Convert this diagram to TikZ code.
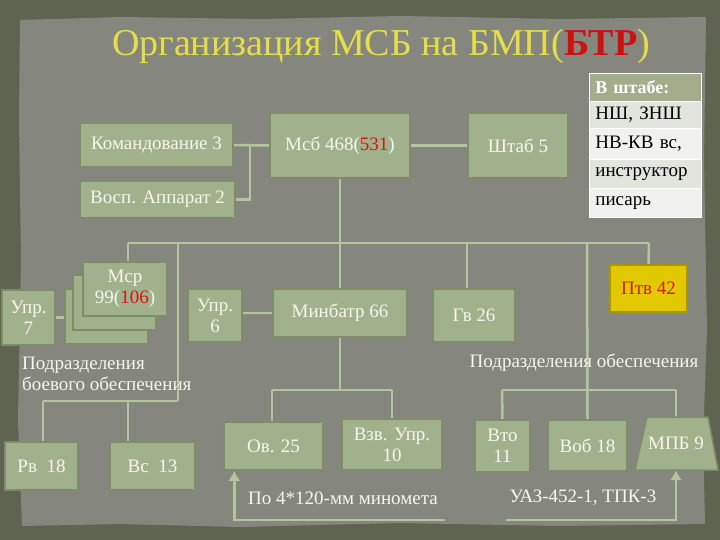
\documentclass[tikz,border=0pt]{standalone}
\usepackage{fontspec}
\setmainfont{Liberation Serif}
\usetikzlibrary{arrows.meta}
\definecolor{frame}{HTML}{5F6450}
\definecolor{paper}{HTML}{85877F}
\definecolor{boxfill}{HTML}{A1B18C}
\definecolor{boxedge}{HTML}{7E8C6C}
\definecolor{boxtext}{HTML}{F6F6EE}
\definecolor{linec}{HTML}{B4C49E}
\definecolor{hdr}{HTML}{A3AD8C}
\definecolor{rowa}{HTML}{E2E4DE}
\definecolor{rowb}{HTML}{F1F1EF}
\definecolor{ttl}{HTML}{E6DE48}
\definecolor{ttlred}{HTML}{D01010}
\definecolor{numred}{HTML}{D41414}
\definecolor{ptvfill}{HTML}{E2C800}
\definecolor{ptvtext}{HTML}{CC2200}
\pgfdeclarelayer{bg}
\pgfdeclarelayer{lines}
\pgfsetlayers{bg,lines,main}
\begin{document}
\begin{tikzpicture}[x=1pt,y=-1pt,
  box/.style={draw=boxedge, line width=1.5pt, fill=boxfill, text=boxtext, align=center, inner sep=1pt, font=\fontsize{19}{21}\selectfont},
  conn/.style={draw=linec, line width=2.5pt},
  arr/.style={conn, -{Latex[length=10pt,width=12pt]}},
  cell/.style={anchor=north west, minimum width=112, text width=100, inner sep=6pt, align=left, font=\fontsize{19}{21}\selectfont, text=black, draw=white, line width=0.8pt},
  lbl/.style={text=boxtext, font=\fontsize{19}{21}\selectfont, inner sep=0pt}]
\useasboundingbox (0,0) rectangle (720,540);
% background
\begin{pgfonlayer}{bg}
\fill[frame] (0,0) rectangle (720,540);
\fill[paper] (20,20) -- (120,17) -- (260,19) -- (400,16) -- (560,19) -- (706,17) -- (704,160) -- (707,330) -- (703,440) -- (705,524) -- (560,526) -- (400,523) -- (240,527) -- (120,524) -- (22,526) -- (18,420) -- (21,260) -- (19,120) -- cycle;
\end{pgfonlayer}
% title
\node (title) at (381,46) {\fontsize{38}{42}\selectfont\color{ttl}Организация МСБ на БМП(\textcolor{ttlred}{\textbf{БТР}})};
% table
\node[cell, fill=hdr, minimum height=28, text=white, font=\fontsize{18}{20}\selectfont\bfseries] (t0) at (589,73) {В штабе:};
\node[cell, fill=rowa, minimum height=27] (t1) at (589,101) {НШ, ЗНШ};
\node[cell, fill=rowb, minimum height=31] (t2) at (589,128) {НВ-КВ вс,};
\node[cell, fill=rowa, minimum height=29] (t3) at (589,159) {инструктор};
\node[cell, fill=rowb, minimum height=29] (t4) at (589,188) {писарь};
% upper boxes
\node[box, minimum width=153, minimum height=44] (kom) at (156.5,145) {Командование 3};
\node[box, minimum width=155, minimum height=37] (vosp) at (157.5,199.5) {Восп. Аппарат 2};
\node[box, minimum width=140, minimum height=65] (msb) at (340,145.5) {Мсб 468(\textcolor{numred}{531})};
\node[box, minimum width=100, minimum height=65] (shtab) at (518,145.5) {Штаб 5};
% middle row
\node[box, minimum width=53, minimum height=55] (upr7) at (28.5,317.5) {Упр.\\7};
\node[box, minimum width=83, minimum height=55] (msrC) at (106.5,316.5) {};
\node[box, minimum width=83, minimum height=55] (msrB) at (114.5,302.5) {};
\node[box, minimum width=84, minimum height=54] (msrA) at (125,289) {Мср\\99(\textcolor{numred}{106})};
\node[box, minimum width=54, minimum height=53] (upr6) at (215,315.5) {Упр.\\6};
\node[box, minimum width=134, minimum height=48] (minb) at (340,313) {Минбатр 66};
\node[box, minimum width=82, minimum height=53] (gv) at (474,315.5) {Гв 26};
\node[box, draw=ptvfill!75!black, fill=ptvfill, text=ptvtext, minimum width=77, minimum height=47] (ptv) at (648.5,288.5) {Птв 42};
% bottom row
\node[box, minimum width=73, minimum height=48] (rv) at (41.5,466) {Рв\ \ 18};
\node[box, minimum width=85, minimum height=48] (vs) at (152.5,466) {Вс\ \ 13};
\node[box, minimum width=99, minimum height=48] (ov) at (273.5,446) {Ов. 25};
\node[box, minimum width=100, minimum height=51] (vzv) at (392,444.5) {Взв. Упр.\\10};
\node[box, minimum width=55, minimum height=52] (vto) at (502.5,446) {Вто\\11};
\node[box, minimum width=79, minimum height=51] (vob) at (587.5,445.5) {Воб 18};
\path[draw=boxedge, line width=1.5pt, fill=boxfill] (647,417) -- (708,417) -- (718,470) -- (635,470) -- cycle;
\node[lbl, minimum width=60, minimum height=53] (mpb) at (676,443.5) {МПБ 9};
% junction coordinates
\coordinate (j1) at (250,145);
\coordinate (bA) at (128,243);
\coordinate (bB) at (178,243);
\coordinate (bD) at (467,243);
\coordinate (bE) at (587,243);
\coordinate (bF) at (649,243);
\coordinate (lL) at (43,401);
\coordinate (lR) at (178,401);
\coordinate (lM) at (128,401);
\coordinate (mL) at (272,390);
\coordinate (mR) at (392,390);
\coordinate (rL) at (502,390);
\coordinate (rR) at (676,390);
\coordinate (a1) at (445,520);
\coordinate (a2) at (506,520);
% connectors
\begin{pgfonlayer}{lines}
\draw[conn] (kom.east) -- (msb.west);
\draw[conn] (vosp.east) -| (j1);
\draw[conn] (msb.east) -- (shtab.west);
\draw[conn] (msb.south) -- (minb.north);
\draw[conn] (bA) -- (bF);
\draw[conn] (bA) -- (bA |- msrA.north);
\draw[conn] (bB) -- (lR);
\draw[conn] (bD) -- (bD |- gv.north);
\draw[conn] (bE) -- (vob.north);
\draw[conn] (bF) -- (ptv.north);
\draw[conn] (upr7.east) -- (upr7.east -| msrC.west);
\draw[conn] (minb.west) -- (minb.west -| upr6.east);
\draw[conn] (lL) -- (lR);
\draw[conn] (lL) -- (lL |- rv.north);
\draw[conn] (lM) -- (lM |- vs.north);
\draw[conn] (minb.south) -- (340,390);
\draw[conn] (mL) -- (mR);
\draw[conn] (mL) -- (mL |- ov.north);
\draw[conn] (mR) -- (vzv.north);
\draw[conn] (rL) -- (rR);
\draw[conn] (rL) -- (vto.north);
\draw[conn] (rR) -- (mpb.north);
\draw[arr] (a1) -| ([xshift=11pt]ov.south west);
\draw[arr] (a2) -| (mpb.south);
\end{pgfonlayer}
% labels
\node[lbl, align=left, anchor=north west] (pbo) at (22,357) {Подразделения\\боевого обеспечения};
\node[lbl] (po) at (584,363) {Подразделения обеспечения};
\node[lbl] (note1) at (343,498) {По 4*120-мм миномета};
\node[lbl] (note2) at (583,498) {УАЗ-452-1, ТПК-3};
\end{tikzpicture}
\end{document}
